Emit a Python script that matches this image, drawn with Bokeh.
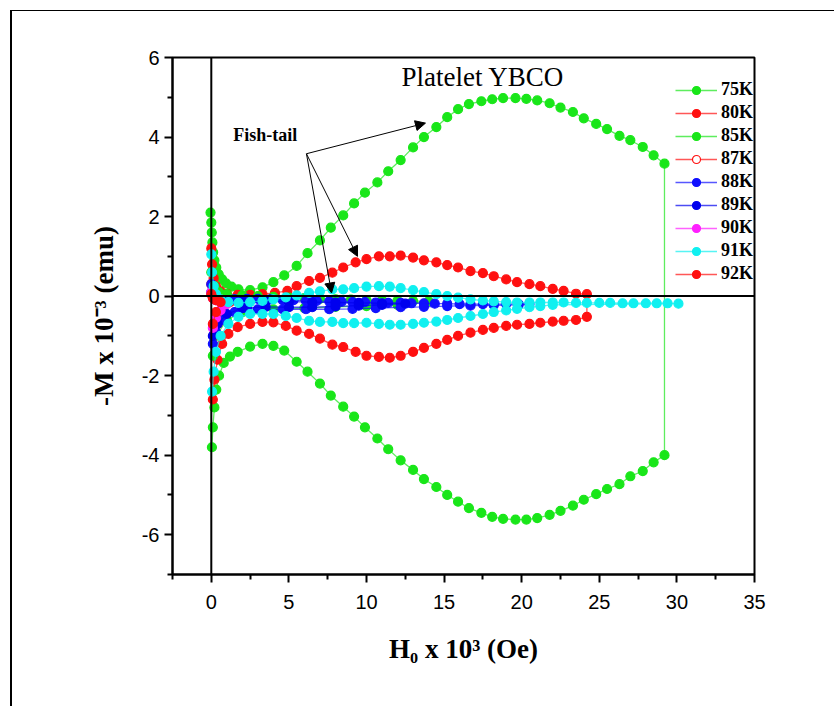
from bokeh.plotting import figure
from bokeh.models import (FixedTicker, Span, Label, Arrow, NormalHead, Legend,
                          LegendItem, InlineStyleSheet)
from bokeh.embed import file_html
from bokeh.resources import INLINE

# ---------------- data (H in 10^3 Oe, -M in 10^-3 emu) ----------------
h75_up = [-0.05, 0.0, 0.03, 0.07, 0.12, 0.2, 0.32, 0.48, 0.7, 0.95, 1.3, 1.75, 2.5, 3.3, 4.0, 4.7,
          5.5, 6.2, 7.0, 7.7, 8.5, 9.2, 9.9, 10.7, 11.4, 12.2, 13.0, 13.7, 14.5, 15.2, 15.9,
          16.6, 17.4, 18.1, 18.8, 19.6, 20.3, 21.0, 21.8, 22.5, 23.3, 24.0, 24.8, 25.5, 26.3,
          27.0, 27.8, 28.5, 29.2]
m75_up = [2.1, 1.85, 1.6, 1.35, 1.1, 0.9, 0.72, 0.55, 0.42, 0.32, 0.24, 0.17, 0.15, 0.22, 0.35,
          0.52, 0.76, 1.08, 1.4, 1.72, 2.03, 2.33, 2.6, 2.86, 3.14, 3.42, 3.74, 4.0, 4.25, 4.5,
          4.7, 4.83, 4.9, 4.95, 4.98, 4.98, 4.96, 4.92, 4.85, 4.74, 4.63, 4.47, 4.33, 4.2,
          4.03, 3.92, 3.75, 3.54, 3.33]
h75_dn = [29.2, 28.5, 27.8, 27.0, 26.3, 25.5, 24.8, 24.0, 23.3, 22.5, 21.8, 21.0, 20.3, 19.6,
          18.8, 18.1, 17.4, 16.6, 15.9, 15.2, 14.5, 13.7, 13.0, 12.2, 11.4, 10.7, 9.9, 9.2,
          8.5, 7.7, 7.0, 6.2, 5.5, 4.7, 4.0, 3.3, 2.5, 1.7, 1.2, 0.8, 0.5, 0.32, 0.2, 0.1, 0.04]
m75_dn = [-4.0, -4.18, -4.4, -4.53, -4.73, -4.85, -4.98, -5.12, -5.27, -5.4, -5.5, -5.58,
          -5.62, -5.62, -5.6, -5.55, -5.45, -5.33, -5.17, -5.0, -4.8, -4.6, -4.37, -4.13,
          -3.85, -3.58, -3.3, -3.03, -2.78, -2.5, -2.2, -1.9, -1.65, -1.37, -1.25, -1.2,
          -1.27, -1.4, -1.52, -1.68, -2.0, -2.35, -2.8, -3.3, -3.8]

h80_up = [0.0, 0.05, 0.15, 0.3, 0.6, 1.0, 1.7, 2.5, 3.3, 4.1, 4.9, 5.5, 6.3, 7.0, 7.8, 8.5,
          9.3, 10.0, 10.8, 11.5, 12.2, 13.0, 13.7, 14.5, 15.2, 15.9, 16.7, 17.5, 18.2, 19.0,
          19.7, 20.5, 21.2, 22.0, 22.7, 23.5, 24.2]
m80_up = [1.2, 0.8, 0.45, 0.25, 0.12, 0.06, 0.03, 0.03, 0.05, 0.08, 0.13, 0.25, 0.38, 0.46,
          0.59, 0.72, 0.85, 0.93, 1.0, 1.0, 1.02, 0.97, 0.9, 0.85, 0.78, 0.72, 0.63, 0.58,
          0.5, 0.42, 0.35, 0.3, 0.25, 0.18, 0.13, 0.06, 0.05]
h80_dn = [24.2, 23.5, 22.7, 22.0, 21.2, 20.5, 19.7, 19.0, 18.2, 17.5, 16.7, 15.9, 15.2, 14.5,
          13.7, 13.0, 12.2, 11.5, 10.8, 10.0, 9.3, 8.5, 7.8, 7.0, 6.3, 5.5, 4.8, 4.0, 3.3,
          2.5, 1.7, 1.1, 0.7, 0.4, 0.2, 0.1]
m80_dn = [-0.52, -0.6, -0.62, -0.64, -0.67, -0.7, -0.72, -0.75, -0.8, -0.85, -0.92, -1.0,
          -1.1, -1.2, -1.3, -1.4, -1.5, -1.55, -1.53, -1.5, -1.4, -1.28, -1.22, -1.07, -0.95,
          -0.87, -0.75, -0.66, -0.65, -0.7, -0.78, -0.95, -1.2, -1.6, -2.1, -2.6]

h85 = [0.0, 0.2, 0.5, 1.0, 2.0, 3.0, 4.0, 5.0, 6.0, 7.0, 8.0, 9.0, 10.0, 11.0, 12.0, 13.0,
       14.0, 12.0, 10.0, 8.0, 6.0, 4.0, 2.0, 1.0, 0.3, 0.1]
m85 = [0.6, 0.25, 0.1, 0.05, 0.02, 0.0, -0.02, -0.04, -0.05, -0.07, -0.08, -0.09, -0.1,
       -0.1, -0.11, -0.12, -0.13, -0.22, -0.25, -0.27, -0.3, -0.33, -0.4, -0.6, -1.0, -1.5]

h87 = [0.0, 0.15, 0.4, 0.8, 1.2, 0.8, 0.4, 0.15]
m87 = [0.3, 0.05, -0.05, -0.1, -0.15, -0.4, -0.7, -1.0]

h88_up = [0.0, 0.1, 0.3, 0.8, 1.5, 2.3, 3.0, 3.8, 4.6, 5.3, 6.1, 6.8, 7.6, 8.4, 9.1, 9.9,
          10.6, 11.4, 12.2, 12.9, 13.7, 14.4, 15.2, 16.0, 16.7, 17.5, 18.2, 19.0, 19.8, 20.5]
m88_up = [0.3, 0.0, -0.1, -0.1, -0.08, -0.07, -0.07, -0.08, -0.1, -0.1, -0.12, -0.12, -0.13,
          -0.14, -0.15, -0.15, -0.16, -0.17, -0.17, -0.18, -0.18, -0.19, -0.19, -0.2, -0.2,
          -0.2, -0.2, -0.2, -0.2, -0.2]
h88_dn = [19.8, 18.2, 16.7, 15.2, 13.7, 12.2, 10.6, 9.1, 7.6, 6.1, 4.6, 3.0, 2.3, 1.5, 0.8,
          0.3, 0.1]
m88_dn = [-0.22, -0.23, -0.24, -0.25, -0.27, -0.28, -0.3, -0.32, -0.33, -0.33, -0.33, -0.33,
          -0.3, -0.4, -0.6, -0.9, -1.2]

h89 = [0.0, 0.3, 1.0, 2.0, 3.5, 5.0, 6.5, 8.0, 9.5, 11.0, 12.5, 11.0, 9.5, 8.0, 6.5, 5.0,
       3.5, 2.0, 1.0, 0.4, 0.1]
m89 = [0.1, -0.08, -0.1, -0.12, -0.13, -0.14, -0.15, -0.16, -0.17, -0.18, -0.19, -0.22,
       -0.24, -0.26, -0.28, -0.28, -0.27, -0.3, -0.45, -0.7, -1.0]

h90 = [0.0, 0.1, 0.3, 0.6, 1.0, 0.6, 0.3, 0.1]
m90 = [0.1, -0.05, -0.1, -0.15, -0.2, -0.35, -0.55, -0.8]

h91_up = [0.0, 0.05, 0.15, 0.3, 0.6, 1.1, 1.75, 2.5, 3.3, 4.0, 4.8, 5.5, 6.3, 7.0, 7.8, 8.5,
          9.2, 10.0, 10.8, 11.5, 12.2, 13.0, 13.7, 14.5, 15.2, 15.9, 16.7, 17.5, 18.2, 19.0,
          19.7, 20.5, 21.2, 22.0, 22.7, 23.5, 24.2, 25.0, 25.7, 26.5, 27.2, 28.0, 28.7, 29.4,
          30.1]
m91_up = [1.05, 0.6, 0.25, 0.05, -0.08, -0.15, -0.17, -0.15, -0.12, -0.08, -0.03, 0.02, 0.08,
          0.12, 0.17, 0.17, 0.2, 0.24, 0.25, 0.24, 0.2, 0.15, 0.1, 0.05, 0.0, -0.04, -0.08,
          -0.11, -0.13, -0.15, -0.16, -0.16, -0.16, -0.16, -0.16, -0.17, -0.17, -0.17, -0.17,
          -0.18, -0.18, -0.18, -0.18, -0.18, -0.19]
h91_dn = [22.0, 21.2, 20.5, 19.7, 19.0, 18.2, 17.5, 16.7, 15.9, 15.2, 14.5, 13.7, 13.0, 12.2,
          11.5, 10.8, 10.0, 9.2, 8.5, 7.8, 7.0, 6.3, 5.5, 4.8, 4.0, 3.3, 2.5, 1.75, 1.1, 0.6,
          0.3, 0.15, 0.05]
m91_dn = [-0.22, -0.25, -0.28, -0.32, -0.36, -0.4, -0.45, -0.5, -0.55, -0.6, -0.64, -0.67,
          -0.7, -0.72, -0.72, -0.7, -0.67, -0.68, -0.68, -0.65, -0.65, -0.62, -0.55, -0.5,
          -0.45, -0.45, -0.45, -0.52, -0.7, -1.0, -1.4, -1.9, -2.4]

h92 = [0.0, 0.1, 0.3, 0.6, 0.3, 0.1]
m92 = [0.05, -0.05, -0.1, -0.15, -0.4, -0.7]

labels = ["75K", "80K", "85K", "87K", "88K", "89K", "90K", "91K", "92K"]
colors = ["#19e619", "#ff1010", "#19e619", "#ff1010", "#1010ff", "#0000ee", "#ff20ff",
          "#10f0f0", "#ff1010"]
hollow = [False, False, False, True, False, False, False, False, False]
xs = [h75_up + h75_dn, h80_up + h80_dn, h85, h87, h88_up + h88_dn, h89, h90,
      h91_up + h91_dn, h92]
ys = [m75_up + m75_dn, m80_up + m80_dn, m85, m87, m88_up + m88_dn, m89, m90,
      m91_up + m91_dn, m92]

x_major = [0, 5, 10, 15, 20, 25, 30, 35]
x_minor = [-2.5, 2.5, 7.5, 12.5, 17.5, 22.5, 27.5, 32.5]
y_major = [-6, -4, -2, 0, 2, 4, 6]
y_minor = [-7, -5, -3, -1, 1, 3, 5]

# ---------------- figure ----------------
frame_css = InlineStyleSheet(css="""
:host { position: relative; }
:host::after {
  content: ""; position: absolute; left: 10px; top: 10px; width: 822px; height: 700px;
  border-top: 1px solid #000; border-left: 2px solid #000; pointer-events: none;
}
""")

p = figure(width=840, height=706, x_range=(-2.5, 35), y_range=(-7, 6),
           output_backend="svg", toolbar_location=None,
           min_border_left=172, min_border_right=86, min_border_top=57,
           min_border_bottom=132)
p.stylesheets = [frame_css]
p.grid.visible = False
p.background_fill_color = "white"
p.border_fill_color = "white"
p.outline_line_color = "black"
p.outline_line_width = 2

p.xaxis.ticker = FixedTicker(ticks=x_major, minor_ticks=x_minor)
p.yaxis.ticker = FixedTicker(ticks=y_major, minor_ticks=y_minor)
p.yaxis.major_label_overrides = {v: str(v) for v in y_major}
for ax in (p.xaxis[0], p.yaxis[0]):
    ax.axis_line_width = 2
    ax.major_tick_line_width = 2
    ax.minor_tick_line_width = 2
    ax.major_tick_in = 0
    ax.minor_tick_in = 0
    ax.major_tick_out = 8
    ax.minor_tick_out = 5
    ax.major_label_text_font = "Liberation Sans"
    ax.major_label_text_font_size = "20px"
    ax.major_label_text_color = "black"
    ax.axis_label_text_font = "Liberation Serif"
    ax.axis_label_text_font_style = "bold"
    ax.axis_label_text_font_size = "27px"
    ax.axis_label_text_color = "black"

p.xaxis.axis_label = "H\u2080 x 10\u00b3 (Oe)"
p.yaxis.axis_label = "-M x 10\u207b\u00b3 (emu)"
p.xaxis.major_label_standoff = 12
p.xaxis.axis_label_standoff = 22
p.yaxis.major_label_standoff = 5
p.yaxis.axis_label_standoff = 20

items = []
for lab, c, hol, x, y in zip(labels, colors, hollow, xs, ys):
    rl = p.line(x, y, line_color=c, line_width=1.3, line_alpha=0.7)
    rs = p.scatter(x, y, marker="circle", size=9, line_color=c,
                   fill_color=("white" if hol else c), line_width=1.2)
    items.append(LegendItem(label=lab, renderers=[rl, rs]))

# zero lines
p.add_layout(Span(location=0, dimension="height", line_color="black", line_width=2))
p.add_layout(Span(location=0, dimension="width", line_color="black", line_width=2))

legend = Legend(items=items, location=(503, 290), border_line_color=None,
                background_fill_alpha=0, padding=0, margin=0, spacing=2,
                glyph_width=42, glyph_height=20, label_height=20, label_standoff=4,
                label_text_font="Liberation Serif", label_text_font_style="bold",
                label_text_font_size="18px", label_text_color="black")
p.add_layout(legend)

p.add_layout(Label(x=17.5, y=5.52, text="Platelet YBCO", text_align="center",
                   text_baseline="middle", text_font="Liberation Serif",
                   text_font_size="27px", text_color="black"))
p.add_layout(Label(x=1.42, y=4.05, text="Fish-tail", text_align="left",
                   text_baseline="middle", text_font="Liberation Serif",
                   text_font_style="bold", text_font_size="18px", text_color="black"))

ox, oy = 6.13, 3.58
for ex, ey in [(13.8, 4.35), (9.42, 1.0), (7.75, 0.08)]:
    p.add_layout(Arrow(end=NormalHead(size=10, fill_color="black", line_color="black",
                                      line_width=1),
                       x_start=ox, y_start=oy, x_end=ex, y_end=ey,
                       line_color="black", line_width=1))

open("out.html", "w").write(file_html(p, INLINE))
